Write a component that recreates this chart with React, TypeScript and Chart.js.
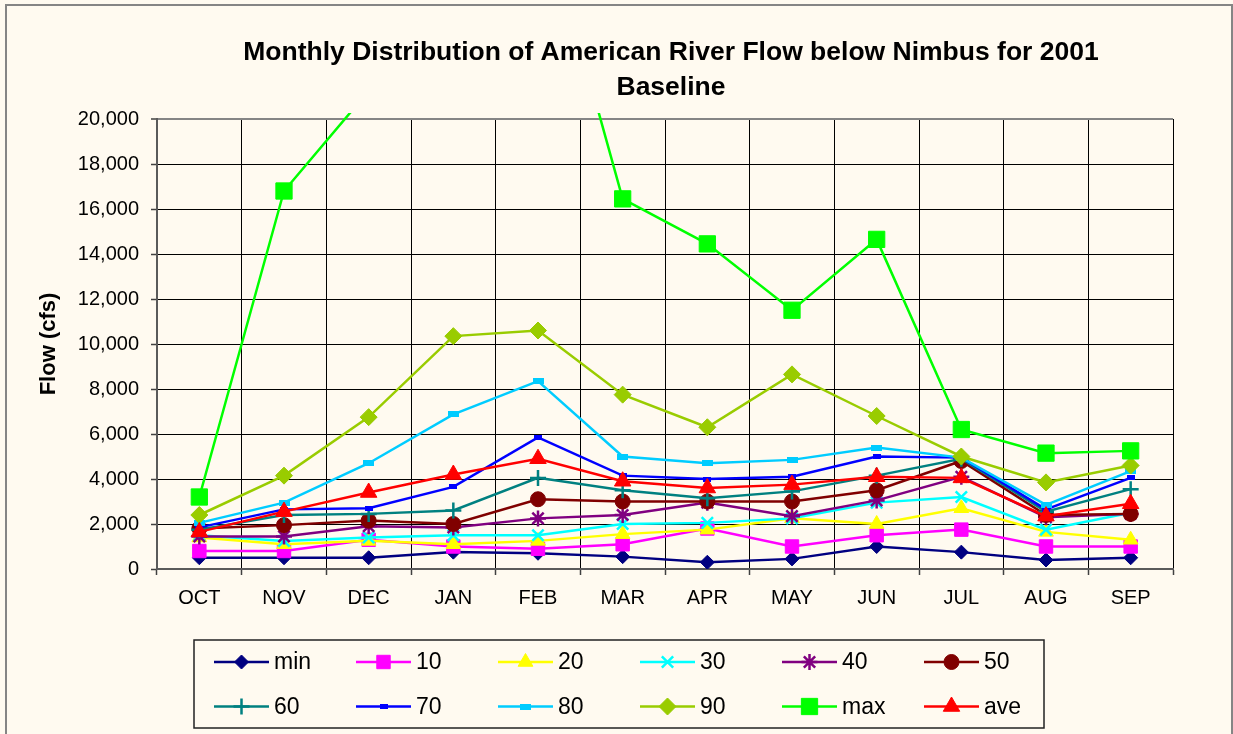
import React, { useEffect, useRef } from 'react';
import { Chart, registerables } from 'chart.js';
import { drawPoint } from 'chart.js/helpers';

Chart.register(...registerables);

const months = ['OCT', 'NOV', 'DEC', 'JAN', 'FEB', 'MAR', 'APR', 'MAY', 'JUN', 'JUL', 'AUG', 'SEP'];

const minFlow = [500, 500, 500, 750, 700, 550, 300, 450, 1000, 750, 400, 500];
const p10Flow = [800, 800, 1300, 1000, 900, 1100, 1800, 1000, 1500, 1750, 1000, 1000];
const p20Flow = [1400, 1100, 1250, 1100, 1250, 1550, 1750, 2250, 2000, 2700, 1650, 1300];
const p30Flow = [1500, 1250, 1400, 1500, 1500, 2000, 2050, 2250, 2950, 3200, 1750, 2500];
const p40Flow = [1450, 1450, 1900, 1850, 2250, 2400, 2950, 2350, 3050, 4100, 2300, 2450];
const p50Flow = [1800, 1950, 2150, 2000, 3100, 3000, 3000, 3000, 3500, 4800, 2400, 2450];
const p60Flow = [1750, 2400, 2450, 2600, 4050, 3500, 3150, 3450, 4150, 4900, 2550, 3550];
const p70Flow = [1850, 2650, 2700, 3650, 5850, 4150, 4000, 4100, 5000, 4950, 2650, 4050];
const p80Flow = [2050, 2950, 4700, 6870, 8350, 5000, 4700, 4850, 5400, 4950, 2850, 4350];
const p90Flow = [2400, 4150, 6750, 10350, 10600, 7750, 6300, 8650, 6800, 5000, 3850, 4600];
const maxFlow = [3200, 16800, 21250, 25500, 30000, 16450, 14450, 11500, 14650, 6200, 5150, 5250];
const aveFlow = [1650, 2550, 3400, 4200, 4900, 3900, 3600, 3750, 4100, 4050, 2350, 2900];

const seriesNames = ['min', '10', '20', '30', '40', '50', '60', '70', '80', '90', 'max', 'ave'];
const seriesData = [minFlow, p10Flow, p20Flow, p30Flow, p40Flow, p50Flow, p60Flow, p70Flow, p80Flow, p90Flow, maxFlow, aveFlow];
const seriesColors = ['#000080', '#FF00FF', '#FFFF00', '#00FFFF', '#800080', '#800000', '#008080', '#0000FF', '#00CCFF', '#99CC00', '#00FF00', '#FF0000'];

const titleLines = ['Monthly Distribution of American River Flow below Nimbus for 2001', 'Baseline'];
const yAxisTitle = 'Flow (cfs)';
const yMin = 0;
const yMax = 20000;
const yStep = 2000;

const FONT = '"Liberation Sans", Arial, sans-serif';

function makeBar(w: number, h: number, color: string): HTMLCanvasElement {
  const c = document.createElement('canvas');
  c.width = w;
  c.height = h;
  const g = c.getContext('2d')!;
  g.fillStyle = color;
  g.fillRect(0, 0, w, h);
  return c;
}

export default function App() {
  const ref = useRef<HTMLCanvasElement>(null);

  useEffect(() => {
    if (!ref.current) return;
    const bar70 = makeBar(8, 5, '#0000FF');
    const bar80 = makeBar(11, 6, '#00CCFF');
    const styles: any[] = [
      { pointStyle: 'rectRot', radius: 7, bw: 1 },
      { pointStyle: 'rect', radius: 9.5, bw: 1 },
      { pointStyle: 'triangle', radius: 8.5, bw: 1 },
      { pointStyle: 'crossRot', radius: 8, bw: 2.5 },
      { pointStyle: 'star', radius: 8, bw: 2.5 },
      { pointStyle: 'circle', radius: 7.5, bw: 1 },
      { pointStyle: 'cross', radius: 8, bw: 2.5 },
      { pointStyle: bar70, radius: 4, bw: 1 },
      { pointStyle: bar80, radius: 5, bw: 1 },
      { pointStyle: 'rectRot', radius: 8.5, bw: 1 },
      { pointStyle: 'rect', radius: 11.5, bw: 1 },
      { pointStyle: 'triangle', radius: 9.5, bw: 1 },
    ];

    const datasets = seriesNames.map((name, i) => ({
      label: name,
      data: seriesData[i],
      borderColor: seriesColors[i],
      backgroundColor: seriesColors[i],
      pointBackgroundColor: seriesColors[i],
      pointBorderColor: seriesColors[i],
      borderWidth: 2.5,
      pointStyle: styles[i].pointStyle,
      pointRadius: styles[i].radius,
      pointBorderWidth: styles[i].bw,
      tension: 0,
      fill: false,
      order: 11 - i,
      clip: { left: 0, top: 6, right: 0, bottom: 0 },
    }));

    const decorPlugin = {
      id: 'decor',
      beforeDraw(chart: any) {
        const ctx = chart.ctx;
        ctx.save();
        ctx.fillStyle = '#FFFAF0';
        ctx.fillRect(0, 0, chart.width, chart.height);
        ctx.strokeStyle = '#858585';
        ctx.lineWidth = 2;
        ctx.strokeRect(6, 5, 1226, 780);
        ctx.restore();
      },
      afterDraw(chart: any) {
        const ctx = chart.ctx;
        ctx.save();
        // title
        ctx.fillStyle = '#000';
        ctx.font = `bold 26.5px ${FONT}`;
        ctx.textAlign = 'center';
        ctx.textBaseline = 'middle';
        ctx.fillText(titleLines[0], 671, 53);
        ctx.fillText(titleLines[1], 671, 88);
        // legend box
        const bx = 194, by = 640, bw = 850, bh = 88;
        ctx.strokeStyle = '#222';
        ctx.lineWidth = 1.5;
        ctx.strokeRect(bx, by, bw, bh);
        ctx.font = `23px ${FONT}`;
        ctx.textAlign = 'left';
        chart.data.datasets.forEach((ds: any, i: number) => {
          const col = i % 6;
          const row = Math.floor(i / 6);
          const x0 = 214 + col * 142;
          const y = 662 + row * 44.5;
          ctx.strokeStyle = ds.borderColor;
          ctx.lineWidth = 2.5;
          ctx.beginPath();
          ctx.moveTo(x0, y);
          ctx.lineTo(x0 + 55, y);
          ctx.stroke();
          ctx.fillStyle = ds.pointBackgroundColor;
          ctx.strokeStyle = ds.pointBorderColor;
          ctx.lineWidth = ds.pointBorderWidth;
          drawPoint(ctx, { pointStyle: ds.pointStyle, radius: ds.pointRadius, rotation: 0, borderWidth: ds.pointBorderWidth } as any, x0 + 27.5, y);
          ctx.fillStyle = '#000';
          ctx.fillText(ds.label, x0 + 60, y + 1);
        });
        ctx.restore();
      },
    };

    const chart = new Chart(ref.current, {
      type: 'line',
      data: { labels: months, datasets: datasets as any },
      plugins: [decorPlugin],
      options: {
        responsive: false,
        animation: false,
        devicePixelRatio: 1,
        layout: { padding: { left: 33, right: 60, top: 119, bottom: 0 } },
        plugins: {
          legend: { display: false },
          title: { display: false },
          tooltip: { enabled: false },
        },
        scales: {
          x: {
            type: 'category',
            offset: true,
            afterFit(scale: any) {
              scale.height = 165;
            },
            grid: {
              offset: true,
              color: (c: any) => (c.index === 12 ? '#858585' : '#000'),
              lineWidth: (c: any) => (c.index === 12 ? 2 : 1),
              tickColor: '#404040',
              tickWidth: 1.5,
              tickLength: 6,
              drawTicks: true,
            },
            border: { display: true, color: '#5a5a5a', width: 2 },
            ticks: {
              color: '#000',
              font: { family: FONT, size: 20 },
              padding: 11,
              maxRotation: 0,
              autoSkip: false,
            },
          },
          y: {
            min: yMin,
            max: yMax,
            afterFit(scale: any) {
              scale.width = 124;
            },
            grid: {
              color: (c: any) => (c.tick && c.tick.value === yMax ? '#858585' : '#000'),
              lineWidth: (c: any) => (c.tick && c.tick.value === yMax ? 2 : 1),
              tickColor: '#404040',
              tickWidth: 1.5,
              tickLength: 6,
            },
            border: { display: true, color: '#5a5a5a', width: 2 },
            ticks: {
              stepSize: yStep,
              color: '#000',
              font: { family: FONT, size: 20 },
              padding: 12,
              callback: (v: any) => Number(v).toLocaleString('en-US'),
            },
            title: {
              display: true,
              text: yAxisTitle,
              color: '#000',
              font: { family: FONT, size: 22, weight: 'bold' },
              padding: { top: 3, bottom: 3 },
            },
          },
        },
      },
    });
    return () => chart.destroy();
  }, []);

  return (
    <div style={{ position: 'fixed', left: 0, top: 0, width: 1233, height: 734, background: '#FFFAF0' }}>
      <canvas ref={ref} width={1233} height={734} style={{ display: 'block', width: 1233, height: 734 }} />
    </div>
  );
}
